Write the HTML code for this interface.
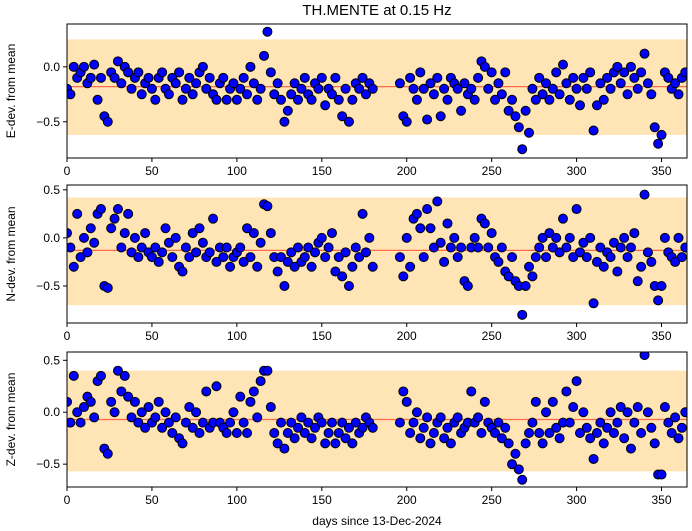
<!DOCTYPE html>
<html><head><meta charset="utf-8"><style>
html,body{margin:0;padding:0;background:#fff}
svg{display:block;font-family:"Liberation Sans","DejaVu Sans",sans-serif}
</style></head><body>
<svg id="chart" width="692" height="531">
<text x="377" y="15" text-anchor="middle" font-size="15">TH.MENTE at 0.15 Hz</text>
<text x="377" y="525" text-anchor="middle" font-size="12">days since 13-Dec-2024</text>
</svg>
<script>
const eSeg1=[-0.2,-0.25,0.0,-0.1,-0.05,0.0,-0.15,-0.1,0.02,-0.3,-0.1,-0.45,-0.5,-0.05,-0.1,0.05,-0.15,0.0,-0.05,-0.2,-0.1,-0.05,-0.25,-0.15,-0.1,-0.2,-0.3,-0.1,-0.05,-0.2,-0.25,-0.1,-0.15,-0.05,-0.3,-0.2,-0.1,-0.25,-0.15,-0.05,0.0,-0.2,-0.1,-0.25,-0.3,-0.15,-0.1,-0.3,-0.2,-0.15,-0.3,-0.2,-0.1,-0.25,0.0,-0.15,-0.3,-0.2,0.1,0.32,-0.05,-0.25,-0.15,-0.3,-0.5,-0.4,-0.25,-0.15,-0.3,-0.2,-0.1,-0.25,-0.3,-0.15,-0.2,-0.1,-0.35,-0.2,-0.25,-0.1,-0.3,-0.45,-0.2,-0.5,-0.3,-0.15,-0.2,-0.1,-0.25,-0.15,-0.2];
const eSeg2=[-0.15,-0.45,-0.5,-0.1,-0.2,-0.3,-0.05,-0.2,-0.48,-0.15,-0.25,-0.1,-0.45,-0.2,-0.3,-0.1,-0.15,-0.2,-0.4,-0.15,-0.25,-0.2,-0.3,-0.1,0.05,0.0,-0.2,-0.05,-0.3,-0.15,-0.25,-0.05,-0.4,-0.3,-0.45,-0.55,-0.75,-0.4,-0.6,-0.2,-0.3,-0.1,-0.25,-0.15,-0.3,-0.2,-0.05,-0.25,0.02,-0.15,-0.3,-0.1,-0.2,-0.35,-0.1,-0.2,-0.05,-0.58,-0.35,-0.15,-0.3,-0.1,-0.2,-0.05,0.0,-0.15,-0.05,-0.25,0.0,-0.1,-0.2,-0.05,0.12,-0.15,-0.25,-0.55,-0.7,-0.62,-0.05,-0.1,-0.2,-0.15,-0.25,-0.1,-0.05];
const nSeg1=[0.05,-0.1,-0.3,0.25,-0.2,0.0,-0.15,0.1,-0.05,0.25,0.3,-0.5,-0.52,0.1,0.2,0.3,-0.1,0.05,0.25,-0.15,0.0,-0.2,-0.1,0.05,-0.15,-0.2,-0.1,-0.25,-0.15,0.1,-0.05,-0.2,0.0,-0.3,-0.35,-0.1,-0.2,0.05,-0.15,0.1,-0.05,-0.2,-0.15,0.2,-0.25,-0.1,-0.2,-0.1,-0.3,-0.2,-0.15,-0.1,-0.25,0.1,-0.2,0.05,-0.3,-0.05,0.35,0.33,0.05,-0.2,-0.35,-0.2,-0.5,-0.25,-0.15,-0.3,-0.1,-0.25,-0.2,-0.1,-0.3,-0.15,-0.05,0.0,-0.2,-0.1,0.05,-0.35,-0.2,-0.4,-0.15,-0.5,-0.3,-0.1,-0.2,0.25,-0.15,0.0,-0.3];
const nSeg2=[-0.2,-0.4,0.0,-0.3,0.2,0.25,0.1,-0.2,0.3,0.1,-0.1,0.38,-0.05,-0.25,0.15,-0.1,0.0,-0.2,-0.1,-0.45,-0.5,-0.1,0.0,-0.1,0.2,0.15,-0.1,0.05,-0.2,-0.25,-0.1,-0.35,-0.4,-0.2,-0.45,-0.5,-0.8,-0.5,-0.3,-0.4,-0.2,-0.1,0.0,-0.2,0.05,-0.1,0.0,-0.15,0.2,-0.1,0.0,-0.2,0.3,-0.15,-0.05,-0.2,0.0,-0.68,-0.25,-0.1,-0.3,-0.15,-0.2,-0.05,-0.35,-0.1,0.0,-0.2,-0.1,0.05,-0.45,-0.3,0.45,-0.15,-0.25,-0.5,-0.65,-0.5,0.0,-0.15,-0.2,-0.25,0.0,-0.2,-0.1];
const zSeg1=[0.1,-0.1,0.35,0.0,-0.1,0.05,0.15,0.1,-0.05,0.3,0.35,-0.35,-0.4,0.1,0.0,0.4,0.2,0.35,0.15,-0.05,0.1,-0.1,0.0,-0.15,0.05,-0.1,-0.05,0.1,-0.15,0.0,-0.1,-0.2,-0.05,-0.25,-0.3,-0.1,0.05,-0.15,0.0,-0.2,-0.1,0.2,-0.15,-0.1,0.25,-0.1,-0.15,-0.2,-0.1,0.0,-0.2,0.15,-0.1,-0.2,0.1,0.2,-0.05,0.3,0.4,0.4,0.05,-0.2,-0.3,-0.1,-0.35,-0.2,-0.1,-0.25,-0.15,-0.05,-0.2,-0.1,-0.25,-0.15,-0.05,-0.1,-0.3,-0.2,-0.1,-0.3,-0.2,-0.1,-0.25,-0.15,-0.3,-0.1,-0.2,-0.15,-0.05,-0.1,-0.15];
const zSeg2=[-0.1,0.2,0.1,-0.2,-0.1,0.0,-0.25,-0.15,-0.05,-0.3,-0.2,-0.1,-0.05,-0.25,-0.15,-0.3,-0.1,-0.05,-0.2,-0.15,-0.1,0.2,-0.1,-0.05,-0.2,0.1,-0.1,-0.15,-0.2,-0.1,-0.25,-0.15,-0.3,-0.5,-0.4,-0.55,-0.65,-0.3,-0.2,-0.1,0.1,-0.2,-0.3,0.0,-0.2,0.1,-0.15,-0.25,-0.1,0.2,-0.1,0.05,0.3,-0.2,0.0,-0.15,-0.25,-0.45,-0.2,-0.1,-0.3,-0.15,0.0,-0.2,-0.1,0.05,-0.25,0.0,-0.35,-0.1,0.05,-0.2,0.55,0.0,-0.15,-0.3,-0.6,-0.6,0.05,-0.1,-0.2,-0.05,-0.25,-0.15,0.0];
const xTicks=[0,50,100,150,200,250,300,350];
const meanLines=[-0.18,-0.13,-0.07];
const bandLo=[-0.62,-0.70,-0.57];
const bandHi=[0.25,0.42,0.40];
const days=[];
for(let d=0;d<=180;d+=2)days.push(d);
for(let d=196;d<=364;d+=2)days.push(d);

const NS="http://www.w3.org/2000/svg";
const svg=document.getElementById('chart');
function mk(t,a,p){const e=document.createElementNS(NS,t);for(const k in a)e.setAttribute(k,a[k]);(p||svg).appendChild(e);return e;}
const panels=[
 {vals:eSeg1.concat(eSeg2),top:24,bot:158,ymin:-0.83,ymax:0.39,yt:[0.0,-0.5],lab:"E-dev. from mean",name:"e-panel"},
 {vals:nSeg1.concat(nSeg2),top:185,bot:323,ymin:-0.885,ymax:0.55,yt:[0.5,0.0,-0.5],lab:"N-dev. from mean",name:"n-panel"},
 {vals:zSeg1.concat(zSeg2),top:352,bot:487,ymin:-0.72,ymax:0.58,yt:[0.5,0.0,-0.5],lab:"Z-dev. from mean",name:"z-panel"}
];
const L=67,R=687;
const xs=d=>L+(d/365)*(R-L);
const fmt=v=>(v<0?"\u2212":"")+Math.abs(v).toFixed(1);
panels.forEach((p,i)=>{
 const ys=v=>p.bot-(v-p.ymin)/(p.ymax-p.ymin)*(p.bot-p.top);
 const g=mk('g',{});
 
 
 const cid='clip'+i;
 const cp=mk('clipPath',{id:cid},g);mk('rect',{x:L,y:p.top,width:R-L,height:p.bot-p.top},cp);
 const band=mk('rect',{x:L,y:ys(bandHi[i]),width:R-L,height:ys(bandLo[i])-ys(bandHi[i]),fill:'#ffe4b5'},g);
 
 
 const ml=mk('line',{x1:L,x2:R,y1:ys(meanLines[i]),y2:ys(meanLines[i]),stroke:'#ff6a4d','stroke-width':1.3},g);
 
 
 const pg=mk('g',{'clip-path':'url(#'+cid+')'},g);
 p.vals.forEach((v,j)=>{
  const c=mk('circle',{cx:xs(days[j]),cy:ys(v),r:4.5,fill:'#0000ff',stroke:'#000','stroke-width':1},pg);
  
  
 });
 const fr=mk('rect',{x:L,y:p.top,width:R-L,height:p.bot-p.top,fill:'none',stroke:'#000','stroke-width':1},g);
 
 
 xTicks.forEach(t=>{
  mk('line',{x1:xs(t),x2:xs(t),y1:p.bot,y2:p.bot+4,stroke:'#000'},g);
  const tx=mk('text',{x:xs(t),y:p.bot+17,'text-anchor':'middle','font-size':12},g);
  tx.textContent=t;
  
  
 });
 p.yt.forEach(t=>{
  mk('line',{x1:L-4,x2:L,y1:ys(t),y2:ys(t),stroke:'#000'},g);
  const tx=mk('text',{x:L-7,y:ys(t)+4,'text-anchor':'end','font-size':12},g);
  tx.textContent=fmt(t);
  
  
 });
 const cy=(p.top+p.bot)/2;
 const yl=mk('text',{x:15,y:cy,'text-anchor':'middle','font-size':12,transform:'rotate(-90 15 '+cy+')'},g);
 yl.textContent=p.lab;
 
 
});
</script>
</body></html>
